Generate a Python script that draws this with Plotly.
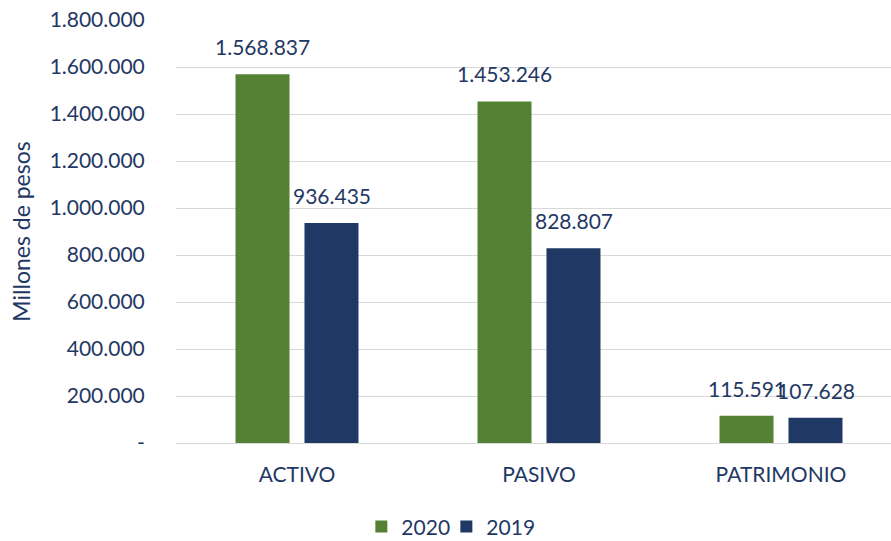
import plotly.graph_objects as go

categories = ["ACTIVO", "PASIVO", "PATRIMONIO"]
values_2020 = [1568837, 1453246, 115591]
values_2019 = [936435, 828807, 107628]
series_names = ["2020", "2019"]
tick_vals = [0, 200000, 400000, 600000, 800000, 1000000, 1200000, 1400000, 1600000, 1800000]
tick_text = ["-", "200.000", "400.000", "600.000", "800.000", "1.000.000",
             "1.200.000", "1.400.000", "1.600.000", "1.800.000"]

GREEN = "#548235"
NAVY = "#203864"
TEXT = "#1f3864"
FONT = "Lato"
FS = 21


def fmt(v):
    return f"{v:,}".replace(",", ".")


fig = go.Figure()
fig.add_trace(go.Bar(x=categories, y=values_2020, name=series_names[0], legendwidth=40,
                     marker=dict(color=GREEN, line=dict(width=0))))
fig.add_trace(go.Bar(x=categories, y=values_2019, name=series_names[1],
                     marker=dict(color=NAVY, line=dict(width=0))))

for vals, shift in ((values_2020, -34.5), (values_2019, 34.5)):
    for c, v in zip(categories, vals):
        fig.add_annotation(x=c, y=v, text=fmt(v), showarrow=False,
                           xshift=shift, yshift=13, yanchor="bottom",
                           font=dict(family=FONT, size=FS, color=TEXT))

fig.update_layout(
    width=891, height=541,
    margin=dict(l=176, r=0, t=20, b=98),
    paper_bgcolor="white", plot_bgcolor="white",
    barmode="group", bargap=0.43, bargroupgap=0.217,
    font=dict(family=FONT, size=FS, color=TEXT),
    showlegend=True,
    legend=dict(orientation="h", xref="container", yref="container",
                x=0.506, xanchor="center", y=0.026, yanchor="middle",
                font=dict(family=FONT, size=FS, color=TEXT),
                itemwidth=30, traceorder="normal"),
    xaxis=dict(range=[-0.5, -0.5 + 715 / 242], showgrid=False, showline=False,
               ticks="outside", ticklen=13, tickcolor="white",
               tickfont=dict(family=FONT, size=FS, color=TEXT)),
    yaxis=dict(range=[0, 1800000], tickvals=tick_vals, ticktext=tick_text,
               showgrid=True, gridcolor="#d9d9d9", gridwidth=1,
               zeroline=True, zerolinecolor="#d9d9d9", zerolinewidth=1,
               showline=False, ticks="outside", ticklen=26,
               tickcolor="white",
               tickfont=dict(family=FONT, size=FS, color=TEXT),
               title=dict(text="Millones de pesos", standoff=12,
                          font=dict(family=FONT, size=23, color=TEXT))),
)

fig.write_html("out.html", config={"displayModeBar": False},
               post_script="document.body.style.margin='0px';")
